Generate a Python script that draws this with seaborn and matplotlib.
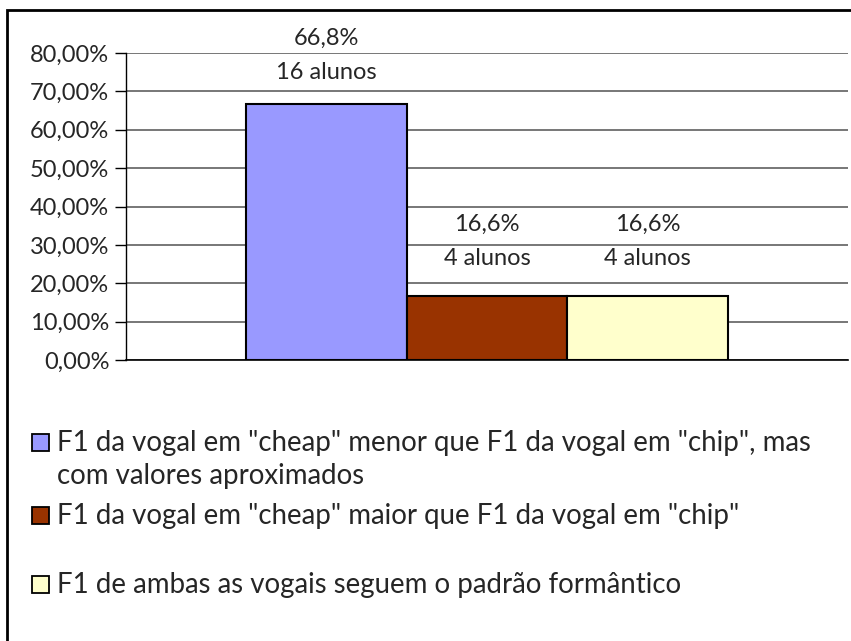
import matplotlib
matplotlib.use("Agg")
import matplotlib.pyplot as plt
from matplotlib.patches import Rectangle
from matplotlib.ticker import FuncFormatter
import seaborn as sns
import pandas as pd

# Data
categories = [
    'F1 da vogal em "cheap" menor que F1 da vogal em "chip", mas\ncom valores aproximados',
    'F1 da vogal em "cheap" maior que F1 da vogal em "chip"',
    'F1 de ambas as vogais seguem o padrão formântico',
]
percentages = [66.8, 16.6, 16.6]
students = [16, 4, 4]
colors = ["#9999FF", "#993300", "#FFFFCC"]

sns.set_theme(style="white")
plt.rcParams["font.family"] = ["Lato", "DejaVu Sans"]
FS = 17
LEG_FS = 19.9

df = pd.DataFrame({
    "grupo": [""] * len(categories),
    "categoria": categories,
    "valor": [p / 100 for p in percentages],
})

W, H = 851, 641
fig = plt.figure(figsize=(W / 100, H / 100), dpi=100)
ax = fig.add_axes([126 / W, 1 - 360 / H, (848 - 126) / W, (360 - 53) / H])

sns.barplot(data=df, x="grupo", y="valor", hue="categoria", hue_order=categories,
            palette=colors, width=0.667, edgecolor="black", linewidth=1.5,
            saturation=1, legend=False, ax=ax, zorder=3)

ax.set_ylim(0, 0.8)
ax.set_xlim(-0.5, 0.5)
ax.set_yticks([i / 10 for i in range(9)])
ax.yaxis.set_major_formatter(FuncFormatter(lambda v, _: f"{v * 100:.2f}%".replace(".", ",")))
ax.set_xticks([])
ax.set_xlabel("")
ax.set_ylabel("")
ax.tick_params(axis="y", labelsize=FS, length=8, width=1, color="black", direction="out",
               left=True, pad=4)
ax.grid(axis="y", color="#606060", linewidth=1.2, zorder=0)
ax.set_axisbelow(True)
for s in ["top", "right"]:
    ax.spines[s].set_visible(False)
ax.spines["left"].set_color("black")
ax.spines["bottom"].set_color("black")
ax.spines["left"].set_linewidth(1)
ax.spines["bottom"].set_linewidth(1.2)

# Value labels above each bar
label_gap = [31, 38, 38]  # pixels between bar top and lower label line
for bar, pct, n, gap in zip(ax.patches, percentages, students, label_gap):
    cx = bar.get_x() + bar.get_width() / 2
    top = bar.get_height()
    ax.annotate(f"{n} alunos", (cx, top), xytext=(0, gap * 0.72), textcoords="offset points",
                ha="center", va="center", fontsize=FS, annotation_clip=False)
    ax.annotate(f"{pct:.1f}%".replace(".", ","), (cx, top), xytext=(0, (gap + 34) * 0.72),
                textcoords="offset points", ha="center", va="center", fontsize=FS,
                annotation_clip=False)

# Legend below the plot
legend_rows = [442, 515, 584]  # pixel centre of each entry's first line
box = 17
for label, color, yrow in zip(categories, colors, legend_rows):
    fig.patches.append(Rectangle((32 / W, 1 - (yrow + box / 2) / H), box / W, box / H,
                                 transform=fig.transFigure, facecolor=color,
                                 edgecolor="black", linewidth=1.3))
    fig.text(57 / W, 1 - (yrow - 12) / H, label, fontsize=LEG_FS, va="top", ha="left",
             linespacing=1.33, transform=fig.transFigure)

# Outer chart frame
fig.patches.append(Rectangle((7 / W, -0.2), 1.2, 1 - 10 / H + 0.2, transform=fig.transFigure,
                             facecolor="none", edgecolor="black", linewidth=2))

fig.savefig("out.png", dpi=100)
